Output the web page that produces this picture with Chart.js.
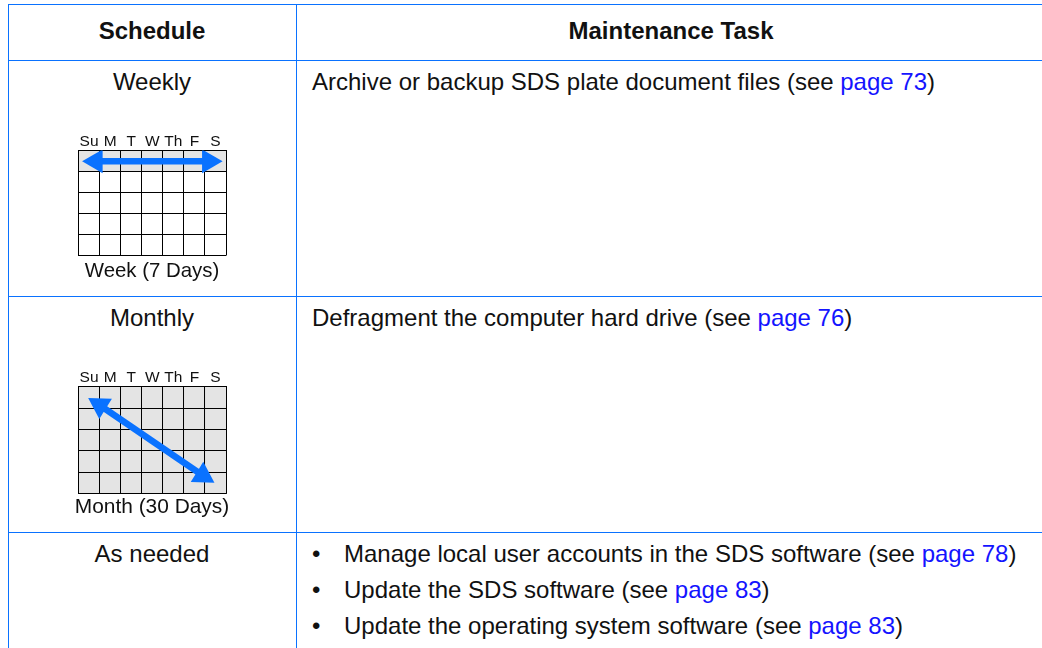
<!DOCTYPE html>
<html>
<head>
<meta charset="utf-8">
<title>Maintenance schedule</title>
<script src="https://cdn.jsdelivr.net/npm/chart.js@4"></script>
<style>
    html, body { margin: 0; padding: 0; background: #fff; overflow: hidden; }
    body { width: 1042px; height: 648px; position: relative; font-family: "Liberation Sans", Arial, sans-serif; color: #111; }
    .rule { position: absolute; background: #0a72ff; }
    .txt { position: absolute; font-size: 24px; line-height: 24px; white-space: nowrap; }
    .mid { text-align: center; }
    .head { font-weight: bold; }
    .txt a { color: #1414ff; text-decoration: none; }
    .cal { position: absolute; left: 60px; width: 184px; }
</style>
</head>
<body>
<div class="cal" style="top:132px;height:152px"><canvas id="weekCal"></canvas></div>
<div class="cal" style="top:368px;height:152px"><canvas id="monthCal"></canvas></div>
<script>
const days = ["Su", "M", "T", "W", "Th", "F", "S"];

const weekShade = [[0, 1], [0, 1], [0, 1], [0, 1], [0, 1], [0, 1], [0, 1]];
const monthShade = [[0, 5], [0, 5], [0, 5], [0, 5], [0, 5], [0, 5], [0, 5]];

const weekArrow = [{ x: 0.82, y: 0.51 }, { x: 6.19, y: 0.51 }];
const monthArrow = [{ x: 1.01, y: 0.87 }, { x: 5.9, y: 4.14 }];

const headers = ["Schedule", "Maintenance Task"];
const schedules = ["Weekly", "Monthly", "As needed"];
const tasks = [
    ["Archive or backup SDS plate document files (see ", "page 73", ")"],
    ["Defragment the computer hard drive (see ", "page 76", ")"]
];
const bullets = [
    ["Manage local user accounts in the SDS software (see ", "page 78", ")"],
    ["Update the SDS software (see ", "page 83", ")"],
    ["Update the operating system software (see ", "page 83", ")"]
];

function addRule(x, y, w, h) {
    const d = document.createElement("div");
    d.className = "rule";
    d.style.cssText = `left:${x}px;top:${y}px;width:${w}px;height:${h}px`;
    document.body.appendChild(d);
}

function addText(parts, x, y, w, cls) {
    const d = document.createElement("div");
    d.className = "txt " + (cls || "");
    d.style.left = x + "px";
    d.style.top = y + "px";
    if (w) d.style.width = w + "px";
    if (typeof parts === "string") {
        d.textContent = parts;
    } else {
        d.append(parts[0]);
        const a = document.createElement("a");
        a.textContent = parts[1];
        d.append(a, parts[2]);
    }
    document.body.appendChild(d);
}

// table rules, open on the right
addRule(8, 4, 1034, 1);
addRule(8, 60, 1034, 1);
addRule(8, 296, 1034, 1);
addRule(8, 532, 1034, 1);
addRule(8, 4, 1, 644);
addRule(296, 4, 1, 644);

// table text
addText(headers[0], 8, 19, 288, "mid head");
addText(headers[1], 296, 19, 750, "mid head");
addText(schedules[0], 8, 70, 288, "mid");
addText(schedules[1], 8, 306, 288, "mid");
addText(schedules[2], 8, 542, 288, "mid");
addText(tasks[0], 312, 70);
addText(tasks[1], 312, 306);
bullets.forEach((b, i) => {
    const y = 542 + i * 36;
    addText("•", 312, y);
    addText(b, 344, y);
});

function drawCalendar(id, shade, arrow, title, titleSize, titlePad, arrowRot) {
    new Chart(document.getElementById(id), {
        data: {
            labels: days,
            datasets: [
                {
                    type: "line",
                    data: arrow,
                    xAxisID: "xa",
                    yAxisID: "y",
                    borderColor: "#0a72ff",
                    borderWidth: 6.5,
                    pointStyle: "triangle",
                    pointRadius: 13.7,
                    pointRotation: arrowRot,
                    pointBackgroundColor: "#0a72ff",
                    pointBorderWidth: 0,
                    order: 0
                },
                {
                    type: "bar",
                    data: shade,
                    xAxisID: "x",
                    yAxisID: "y",
                    // see-through so the black grid stays visible in the shaded cells
                    backgroundColor: "rgba(0,0,0,0.105)",
                    barPercentage: 1,
                    categoryPercentage: 1,
                    grouped: false,
                    order: 1
                }
            ]
        },
        options: {
            responsive: true,
            maintainAspectRatio: false,
            animation: false,
            events: [],
            plugins: {
                legend: { display: false },
                tooltip: { enabled: false },
                title: {
                    display: true,
                    text: title,
                    position: "bottom",
                    color: "#111",
                    padding: { top: titlePad, bottom: 0 },
                    font: { family: "Liberation Sans", size: titleSize, weight: "normal" }
                }
            },
            scales: {
                x: {
                    type: "category",
                    position: "top",
                    offset: true,
                    grid: { color: "#000", lineWidth: 1, drawTicks: false, offset: true },
                    border: { color: "#000", width: 1 },
                    ticks: {
                        color: "#111",
                        padding: 0,
                        maxRotation: 0,
                        autoSkip: false,
                        font: { family: "Liberation Sans", size: 15.5 }
                    }
                },
                xa: { type: "linear", display: false, min: 0, max: 7 },
                y: {
                    type: "linear",
                    reverse: true,
                    min: 0,
                    max: 5,
                    grid: { color: "#000", lineWidth: 1, drawTicks: false },
                    border: { color: "#000", width: 1 },
                    ticks: { display: false, stepSize: 1 },
                    afterFit(scale) { scale.width = 18.5; }
                },
                // empty axis, only keeps the grid narrower than the title
                yr: {
                    type: "linear",
                    position: "right",
                    min: 0,
                    max: 5,
                    grid: { display: false },
                    border: { display: false },
                    ticks: { display: false },
                    afterFit(scale) { scale.width = 18; }
                }
            }
        }
    });
}

drawCalendar("weekCal", weekShade, weekArrow, "Week (7 Days)", 20.4, 4, [-90, 90]);
drawCalendar("monthCal", monthShade, monthArrow, "Month (30 Days)", 20.9, 1, [-58, 122]);
</script>
</body>
</html>
